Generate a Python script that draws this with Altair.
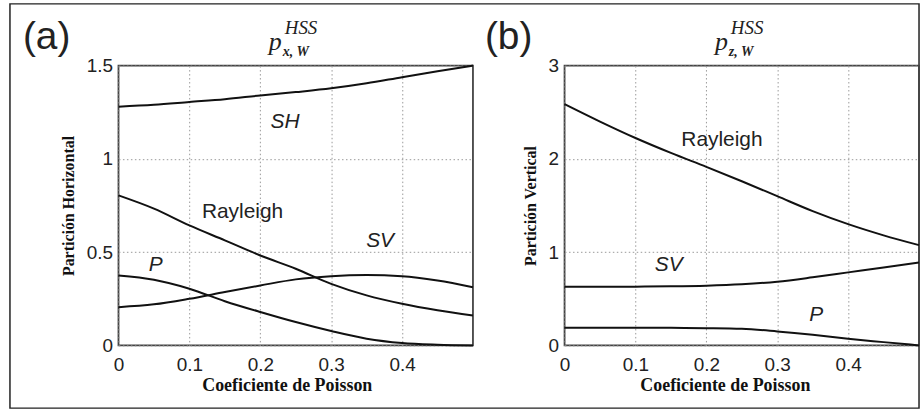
import altair as alt
import pandas as pd

# Poisson's ratio sampled along the horizontal axis
poisson = [0.0, 0.05, 0.1, 0.15, 0.2, 0.25, 0.3, 0.35, 0.4, 0.45, 0.5]

# (a) horizontal partition
a_sh = [1.28, 1.29, 1.305, 1.32, 1.34, 1.358, 1.378, 1.405, 1.438, 1.47, 1.5]
a_rayleigh = [0.804, 0.733, 0.643, 0.563, 0.482, 0.411, 0.33, 0.268, 0.223, 0.188, 0.16]
a_sv = [0.205, 0.22, 0.25, 0.286, 0.321, 0.354, 0.371, 0.377, 0.371, 0.348, 0.312]
a_p = [0.375, 0.352, 0.304, 0.237, 0.179, 0.125, 0.077, 0.036, 0.013, 0.004, 0.0]

# (b) vertical partition
b_rayleigh = [2.587, 2.40, 2.224, 2.064, 1.914, 1.76, 1.6, 1.44, 1.30, 1.18, 1.075]
b_sv = [0.63, 0.63, 0.63, 0.633, 0.64, 0.655, 0.683, 0.73, 0.783, 0.836, 0.89]
b_p = [0.189, 0.189, 0.189, 0.188, 0.185, 0.178, 0.15, 0.114, 0.071, 0.035, 0.0]

# axis ticks
x_ticks = [0, 0.1, 0.2, 0.3, 0.4]
a_y_ticks = [0, 0.5, 1, 1.5]
b_y_ticks = [0, 1, 2, 3]

# curve labels: text, x, y, italic
a_labels = [("SH", 0.235, 1.195, True), ("Rayleigh", 0.175, 0.715, False),
            ("SV", 0.369, 0.56, True), ("P", 0.0525, 0.431, True)]
b_labels = [("Rayleigh", 0.222, 2.2, False), ("SV", 0.147, 0.857, True),
            ("P", 0.355, 0.33, True)]

W, H = 356, 281
SANS = "Liberation Sans"
SERIF = "Liberation Serif"


def long_table(series):
    rows = []
    for name, vals in series.items():
        for x, v in zip(poisson, vals):
            rows.append({"nu": x, "value": v, "series": name})
    return pd.DataFrame(rows)


def panel(series, labels, y_domain, y_ticks, y_title, tag, sub, title_x, frame=False):
    data = long_table(series)
    xs = alt.Scale(domain=[0, 0.5], nice=False, zero=False)
    ys = alt.Scale(domain=y_domain, nice=False)
    x_axis = alt.Axis(values=x_ticks, format="~g", title="Coeficiente de Poisson",
                      titleX=title_x, labelFlush=False)
    y_axis = alt.Axis(values=y_ticks, format="~g", title=y_title, labelFlush=False)

    lines = alt.Chart(data).mark_line(color="#111", strokeWidth=2,
                                      interpolate="monotone").encode(
        x=alt.X("nu:Q", scale=xs, axis=x_axis),
        y=alt.Y("value:Q", scale=ys, axis=y_axis),
        detail="series:N",
    )

    lab = pd.DataFrame([{"t": t, "x": x, "y": y, "it": it} for t, x, y, it in labels])
    up = alt.Chart(lab[~lab.it]).mark_text(font=SANS, fontSize=21, color="#222",
                                           baseline="middle").encode(
        x=alt.X("x:Q", scale=xs), y=alt.Y("y:Q", scale=ys), text="t:N")
    it = alt.Chart(lab[lab.it]).mark_text(font=SANS, fontSize=21, fontStyle="italic",
                                          color="#222", baseline="middle").encode(
        x=alt.X("x:Q", scale=xs), y=alt.Y("y:Q", scale=ys), text="t:N")

    one = pd.DataFrame({"k": [0]})
    tag_txt = alt.Chart(one).mark_text(text=tag, font=SANS, fontSize=39, color="#222",
                                       align="left", baseline="alphabetic").encode(
        x=alt.value(-96 if tag == "(a)" else -80), y=alt.value(-17))
    p_txt = alt.Chart(one).mark_text(text="p", font=SERIF, fontSize=26, fontStyle="italic",
                                     color="#222", align="left", baseline="alphabetic").encode(
        x=alt.value(151), y=alt.value(-16))
    sup_txt = alt.Chart(one).mark_text(text="HSS", font=SERIF, fontSize=19, fontStyle="italic",
                                       color="#222", align="left", baseline="alphabetic").encode(
        x=alt.value(167), y=alt.value(-32))
    sub_txt = alt.Chart(one).mark_text(text=sub, font=SERIF, fontSize=14, fontStyle="italic",
                                       fontWeight="bold", color="#222", align="left",
                                       baseline="alphabetic").encode(
        x=alt.value(165), y=alt.value(-10))

    layers = [lines, up, it, tag_txt, p_txt, sup_txt, sub_txt]
    if frame:
        box = alt.Chart(one).mark_rect(fill=None, stroke="#222", strokeWidth=1.5).encode(
            x=alt.value(-109), x2=alt.value(804), y=alt.value(-62), y2=alt.value(344))
        layers.insert(0, box)
    return alt.layer(*layers).properties(width=W, height=H)


left = panel({"SH": a_sh, "Rayleigh": a_rayleigh, "SV": a_sv, "P": a_p},
             a_labels, [0, 1.5], a_y_ticks, "Partición Horizontal", "(a)", "x, W", 169,
             frame=True)
right = panel({"Rayleigh": b_rayleigh, "SV": b_sv, "P": b_p},
              b_labels, [0, 3], b_y_ticks, "Partición Vertical", "(b)", "z, W", 161)

chart = alt.hconcat(left, right, spacing=92, bounds="flush").properties(
    padding={"left": 8, "top": 1, "right": 0, "bottom": 0},
    background="white",
).configure_view(
    stroke="#444", strokeWidth=1.8
).configure_axis(
    grid=True, gridColor="#999", gridDash=[1.5, 2.5], gridWidth=1,
    domain=False, ticks=False,
    labelFont=SANS, labelFontSize=19, labelColor="#222", labelPadding=6,
    titleFont=SERIF, titleFontWeight="bold", titleColor="#111",
    labelOverlap=False,
).configure_axisX(
    labelPadding=10, titleFontSize=18, titlePadding=2,
).configure_axisY(
    titleFontSize=16, titlePadding=10,
)

chart.save("out.html", embed_options={"renderer": "svg", "actions": False})
